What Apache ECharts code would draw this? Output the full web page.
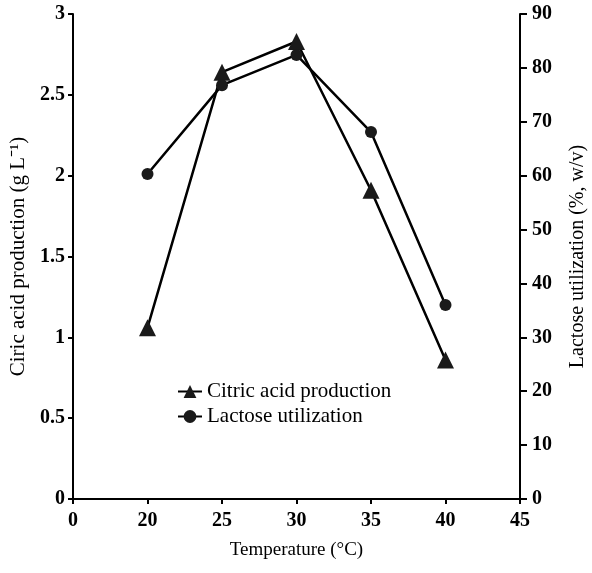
<!DOCTYPE html>
<html>
<head>
<meta charset="utf-8">
<script src="https://cdn.jsdelivr.net/npm/echarts@6/dist/echarts.min.js"></script>
<style>
  html, body { margin: 0; padding: 0; background: #fff; }
  #main { width: 592px; height: 573px; }
</style>
</head>
<body>
<div id="main"></div>
<script>
// x axis ticks (broken axis: 0 then 20..45 evenly spaced)
var xTicks = ['0', '20', '25', '30', '35', '40', '45'];
var temps = ['20', '25', '30', '35', '40'];
var citric = [1.06, 2.64, 2.83, 1.91, 0.86];     // g L-1
var lactose = [60.3, 76.8, 82.4, 68.1, 36.0];    // %, w/v

var FONT = 'Liberation Serif';
var chart = echarts.init(document.getElementById('main'), null, { renderer: 'canvas' });

var option = {
  backgroundColor: '#fff',
  textStyle: { fontFamily: FONT, color: '#000' },
  animation: false,
  grid: { left: 73, right: 72, top: 14, bottom: 74, containLabel: false, outerBoundsMode: 'none' },
  legend: {
    orient: 'vertical',
    left: 172,
    top: 376,
    itemGap: 4,
    itemWidth: 24,
    itemHeight: 16,
    textStyle: { fontFamily: FONT, fontSize: 21, color: '#000' },
    data: ['Citric acid production', 'Lactose utilization']
  },
  xAxis: {
    type: 'category',
    data: xTicks,
    boundaryGap: false,
    name: 'Temperature (°C)',
    nameLocation: 'middle',
    nameGap: 42,
    nameTextStyle: { fontFamily: FONT, fontSize: 19, color: '#000' },
    axisLine: { lineStyle: { color: '#000', width: 2 } },
    axisTick: { show: true, length: 5, lineStyle: { color: '#000', width: 2 } },
    axisLabel: { fontFamily: FONT, fontSize: 20, fontWeight: 'bold', color: '#000', margin: 12 },
    splitLine: { show: false }
  },
  yAxis: [{
    type: 'value',
    min: 0, max: 3, interval: 0.5,
    name: 'Ciric acid production (g L⁻¹)',
    nameLocation: 'middle',
    nameRotate: 90,
    nameGap: 44,
    nameTextStyle: { fontFamily: FONT, fontSize: 21, color: '#000' },
    axisLine: { show: true, lineStyle: { color: '#000', width: 2 } },
    axisTick: { show: true, length: 5, lineStyle: { color: '#000', width: 2 } },
    axisLabel: { fontFamily: FONT, fontSize: 20, fontWeight: 'bold', color: '#000', margin: 8 },
    splitLine: { show: false }
  }, {
    type: 'value',
    position: 'right',
    min: 0, max: 90, interval: 10,
    name: 'Lactose utilization (%, w/v)',
    nameLocation: 'middle',
    nameRotate: 90,
    nameGap: 48,
    nameTextStyle: { fontFamily: FONT, fontSize: 20, color: '#000' },
    axisLine: { show: true, lineStyle: { color: '#000', width: 2 } },
    axisTick: { show: true, length: 7, lineStyle: { color: '#000', width: 2 } },
    axisLabel: { fontFamily: FONT, fontSize: 20, fontWeight: 'bold', color: '#000', margin: 12 },
    splitLine: { show: false }
  }],
  series: [{
    name: 'Citric acid production',
    type: 'line',
    yAxisIndex: 0,
    data: temps.map(function (t, i) { return [t, citric[i]]; }),
    symbol: 'triangle',
    symbolSize: 17,
    itemStyle: { color: '#1a1a1a' },
    lineStyle: { color: '#000', width: 2.5 }
  }, {
    name: 'Lactose utilization',
    type: 'line',
    yAxisIndex: 1,
    data: temps.map(function (t, i) { return [t, lactose[i]]; }),
    symbol: 'circle',
    symbolSize: 12,
    itemStyle: { color: '#1a1a1a' },
    lineStyle: { color: '#000', width: 2.5 }
  }]
};
chart.setOption(option);
</script>
</body>
</html>
